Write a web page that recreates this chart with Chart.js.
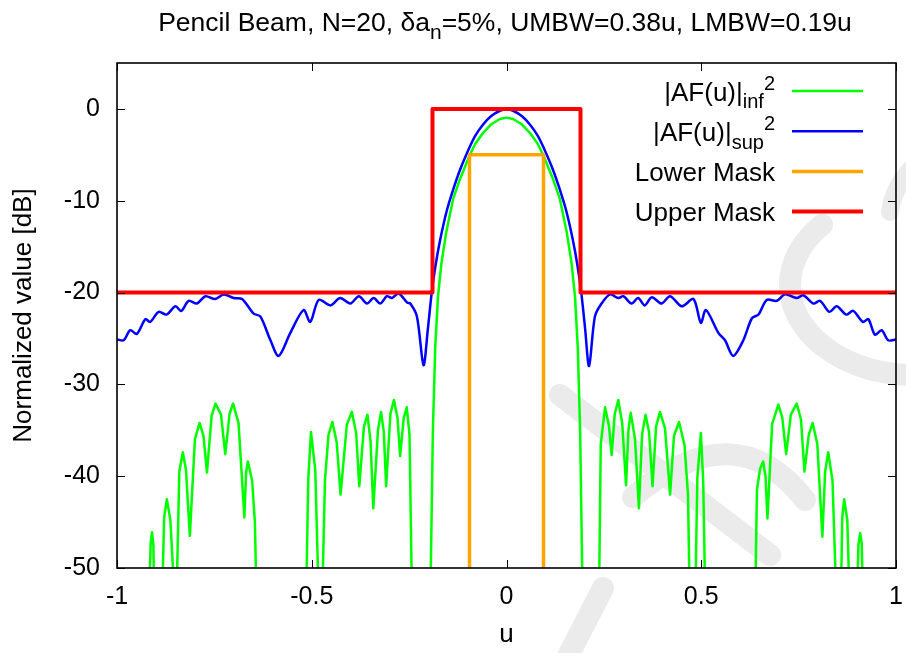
<!DOCTYPE html>
<html>
<head>
<meta charset="utf-8">
<title>Pencil Beam pattern</title>
<script src="https://cdn.jsdelivr.net/npm/chart.js@4.4.1/dist/chart.umd.min.js"></script>
<style>
  html, body { margin: 0; padding: 0; background: #fff; }
  #wrap { width: 906px; height: 653px; }
</style>
</head>
<body>
<div id="wrap"><canvas id="beamChart" width="906" height="653"></canvas></div>
<script>
// axis ticks
const xTicks = [-1, -0.5, 0, 0.5, 1];
const yTicks = [-50, -40, -30, -20, -10, 0];

// |AF(u)|inf^2 in dB, one line per lobe (values below -50 fall off the plot)
const infU = [
  -1, -0.919, -0.9135, -0.910, -0.9065, -0.904,
  -0.885, -0.879, -0.872, -0.863, -0.850,
  -0.848, -0.840, -0.831, -0.823, -0.813,
  -0.800, -0.788, -0.778, -0.769,
  -0.757, -0.747, -0.733, -0.722,
  -0.711, -0.702, -0.688, -0.673,
  -0.6685, -0.664, -0.653, -0.646, -0.641, -0.58,
  -0.515, -0.509, -0.502, -0.491, -0.481,
  -0.474, -0.466, -0.457, -0.447, -0.436, -0.426,
  -0.410, -0.397, -0.386, -0.378,
  -0.366, -0.357, -0.349, -0.342,
  -0.330, -0.322, -0.315, -0.309,
  -0.298, -0.289, -0.280, -0.273,
  -0.264, -0.256, -0.249, -0.242, -0.22,
  -0.195, -0.189, -0.183, -0.176, -0.167, -0.155, -0.137, -0.119, -0.094, -0.080, -0.060, -0.040, -0.017,
  0, 0.017, 0.040, 0.060, 0.080, 0.094, 0.119, 0.137, 0.155, 0.167, 0.176, 0.183, 0.189, 0.195, 0.215,
  0.237, 0.242, 0.253, 0.263, 0.270,
  0.278, 0.287, 0.297, 0.307,
  0.313, 0.319, 0.330, 0.340,
  0.348, 0.357, 0.366, 0.375,
  0.384, 0.394, 0.407, 0.420,
  0.430, 0.443, 0.457, 0.466, 0.471,
  0.484, 0.490, 0.499, 0.505, 0.511, 0.58,
  0.638, 0.643, 0.651, 0.659, 0.665, 0.670,
  0.682, 0.698, 0.708, 0.718,
  0.730, 0.745, 0.756, 0.765,
  0.776, 0.786, 0.798, 0.811,
  0.818, 0.826, 0.837, 0.848,
  0.858, 0.862, 0.867, 0.875, 0.882,
  0.899, 0.9035, 0.908, 0.912, 0.916, 1];
const infDb = [
  -70, -55, -47.3, -46.1, -47.6, -55,
  -55, -44.5, -42.5, -44.8, -55,
  -55, -39.5, -37.4, -39.3, -46.5,
  -36.0, -34.2, -35.6, -39.6,
  -33.4, -32.1, -33.3, -37.6,
  -33.2, -32.1, -34.2, -44.5,
  -39.6, -38.4, -40.5, -45, -55, -75,
  -55, -40.4, -35.2, -39.3, -55,
  -55, -40.4, -35.5, -34.1, -36.3, -42.0,
  -34.4, -33.0, -35.3, -41.1,
  -34.6, -33.3, -36.2, -43.5,
  -35.0, -33.0, -35.2, -41.1,
  -33.2, -31.7, -33.6, -37.8,
  -33.7, -32.5, -35.5, -55, -75,
  -52, -35, -26, -20.5, -16.8, -13.5, -9.8, -7.6, -5.0, -3.8, -2.6, -1.7, -1.1,
  -0.95, -1.1, -1.7, -2.6, -3.8, -5.0, -7.6, -9.8, -13.5, -16.8, -20.5, -26, -35, -52, -75,
  -55, -36.5, -32.5, -34.5, -37.7,
  -33.2, -31.7, -34.2, -41.0,
  -35.0, -33.1, -36.0, -43.5,
  -35.5, -33.3, -35.2, -41.1,
  -34.6, -33.0, -34.8, -42.0,
  -35.6, -34.1, -36.6, -42.0, -55,
  -55, -40.2, -35.3, -40.5, -55, -75,
  -55, -41.5, -39.2, -38.4, -40.0, -44.6,
  -34.3, -32.2, -33.6, -37.6,
  -33.3, -32.1, -33.8, -39.5,
  -35.5, -34.2, -36.5, -46.6,
  -39.5, -37.4, -40.5, -55,
  -55, -44.5, -42.5, -44.8, -55,
  -55, -47.5, -46.2, -47.3, -55, -70];

// |AF(u)|sup^2 in dB
const supU = [-1.0, -0.983, -0.966, -0.949, -0.927, -0.915, -0.893, -0.873, -0.850, -0.835,
  -0.816, -0.795, -0.773, -0.748, -0.726, -0.700, -0.679, -0.649, -0.632, -0.606,
  -0.585, -0.555, -0.521, -0.504, -0.482, -0.452, -0.427, -0.401, -0.379, -0.358,
  -0.341, -0.324, -0.307, -0.294, -0.277, -0.255, -0.247, -0.230, -0.213, -0.202,
  -0.192, -0.182, -0.170, -0.154, -0.137, -0.119, -0.094, -0.080, -0.060, -0.040,
  -0.017, 0, 0.017, 0.040, 0.060, 0.080, 0.094, 0.119, 0.137, 0.154,
  0.170, 0.182, 0.192, 0.202, 0.212, 0.227, 0.244, 0.266, 0.287, 0.300,
  0.321, 0.338, 0.355, 0.373, 0.398, 0.420, 0.450, 0.480, 0.499, 0.512,
  0.544, 0.561, 0.582, 0.608, 0.630, 0.647, 0.668, 0.694, 0.715, 0.745,
  0.762, 0.788, 0.805, 0.829, 0.848, 0.872, 0.890, 0.915, 0.929, 0.946,
  0.963, 0.980, 1.0];
const supDb = [-25.1, -25.2, -24.1, -24.5, -22.9, -23.2, -22.1, -22.4, -21.5, -22.0,
  -20.9, -21.2, -20.4, -20.7, -20.2, -20.6, -20.7, -22.3, -22.6, -25.2,
  -26.9, -24.4, -21.9, -23.2, -20.8, -21.4, -20.6, -21.2, -20.4, -21.2,
  -20.6, -21.2, -20.4, -20.6, -20.1, -21.1, -21.2, -22.6, -27.9, -24,
  -20, -17, -14.2, -11.2, -8.8, -6.6, -4.1, -2.9, -1.7, -0.8,
  -0.2, 0, -0.2, -0.8, -1.7, -2.9, -4.1, -6.6, -8.8, -11.2,
  -14.2, -17, -20, -24, -28.0, -22.6, -21.2, -20.2, -20.6, -20.4,
  -21.2, -20.6, -21.4, -20.5, -21.2, -20.4, -21.5, -20.7, -23.3, -21.9,
  -24.4, -25.2, -26.9, -25.2, -22.8, -22.4, -20.8, -20.9, -20.2, -20.6,
  -20.3, -21.2, -20.9, -22.1, -21.5, -22.4, -22.0, -23.2, -22.9, -24.6,
  -24.1, -25.2, -25.1];

// masks
const lowerMaskU = [-0.095, -0.095, 0.095, 0.095];
const lowerMaskDb = [-60, -5, -5, -60];
const upperMaskU = [-1, -0.19, -0.19, 0.19, 0.19, 1];
const upperMaskDb = [-20, -20, 0, 0, -20, -20];

const FONT = '"Liberation Sans", Arial, Helvetica, sans-serif';

function toPoints(us, vals) {
    return us.map((u, i) => ({ x: u, y: vals[i] }));
}

// text with sub/superscript pieces, drawn on the baseline y
function drawRich(ctx, parts, x, y, size, align) {
    const base = `${size}px ${FONT}`;
    const small = `${Math.round(size * 0.78)}px ${FONT}`;
    let total = 0;
    parts.forEach(p => {
        ctx.font = (p.sub || p.sup) ? small : base;
        p.w = ctx.measureText(p.t).width;
        total += p.w;
    });
    let cx = align === 'right' ? x - total : align === 'center' ? x - total / 2 : x;
    parts.forEach(p => {
        ctx.font = (p.sub || p.sup) ? small : base;
        const dy = p.sub ? size * 0.3 : p.sup ? -size * 0.42 : 0;
        ctx.fillText(p.t, cx, y + dy);
        cx += p.w;
    });
}

// faint background lettering
const watermark = {
    id: 'watermark',
    beforeDraw(chart) {
        const ctx = chart.ctx;
        ctx.save();
        ctx.strokeStyle = '#ebebeb';
        ctx.lineWidth = 22;
        ctx.lineCap = 'round';
        ctx.beginPath();
        ctx.ellipse(915, 285, 125, 90, 0, 3.875, Math.PI / 2, true);
        ctx.stroke();
        ctx.beginPath();
        ctx.moveTo(560, 395);
        ctx.lineTo(770, 555);
        ctx.stroke();
        ctx.beginPath();
        ctx.moveTo(633, 497);
        ctx.quadraticCurveTo(735, 410, 805, 500);
        ctx.stroke();
        ctx.beginPath();
        ctx.moveTo(603, 588);
        ctx.lineTo(565, 662);
        ctx.stroke();
        ctx.lineWidth = 18;
        ctx.beginPath();
        ctx.moveTo(890, 212);
        ctx.quadraticCurveTo(893, 188, 912, 168);
        ctx.stroke();
        ctx.restore();
    }
};

// border box with inward ticks on all four sides
const frameTicks = {
    id: 'frameTicks',
    afterDatasetsDraw(chart) {
        const { ctx, chartArea: a, scales: { x, y } } = chart;
        ctx.save();
        ctx.strokeStyle = '#000';
        ctx.lineWidth = 1;
        ctx.beginPath();
        xTicks.forEach(v => {
            const px = Math.round(x.getPixelForValue(v)) + 0.5;
            ctx.moveTo(px, a.bottom); ctx.lineTo(px, a.bottom - 8);
            ctx.moveTo(px, a.top); ctx.lineTo(px, a.top + 8);
        });
        yTicks.forEach(v => {
            const py = Math.round(y.getPixelForValue(v)) + 0.5;
            ctx.moveTo(a.left, py); ctx.lineTo(a.left + 8, py);
            ctx.moveTo(a.right, py); ctx.lineTo(a.right - 8, py);
        });
        ctx.stroke();
        ctx.lineWidth = 1.6;
        ctx.strokeRect(a.left, a.top, a.right - a.left, a.bottom - a.top);
        ctx.restore();
    }
};

const legendItems = [
    { parts: [{ t: '|AF(u)|' }, { t: 'inf', sub: true }, { t: '2', sup: true }], color: '#00ff00', width: 2.5 },
    { parts: [{ t: '|AF(u)|' }, { t: 'sup', sub: true }, { t: '2', sup: true }], color: '#0000ff', width: 2.5 },
    { parts: [{ t: 'Lower Mask' }], color: '#ffa500', width: 3.5 },
    { parts: [{ t: 'Upper Mask' }], color: '#ff0000', width: 4 }
];

// title and key
const labels = {
    id: 'labels',
    afterDraw(chart) {
        const ctx = chart.ctx;
        ctx.save();
        ctx.fillStyle = '#000';
        ctx.textBaseline = 'alphabetic';
        drawRich(ctx, [
            { t: 'Pencil Beam, N=20, \u03b4a' }, { t: 'n', sub: true },
            { t: '=5%, UMBW=0.38u, LMBW=0.19u' }
        ], 505, 31, 26.5, 'center');

        legendItems.forEach((item, i) => {
            const ly = 91 + i * 40.2;
            ctx.fillStyle = '#000';
            drawRich(ctx, item.parts, 775, ly + 9.5, 26, 'right');
            ctx.strokeStyle = item.color;
            ctx.lineWidth = item.width;
            ctx.beginPath();
            ctx.moveTo(792, ly);
            ctx.lineTo(863, ly);
            ctx.stroke();
        });
        ctx.restore();
    }
};

const ctx = document.getElementById('beamChart');

const beamChart = new Chart(ctx, {
    type: 'line',
    data: {
        datasets: [
            {
                label: 'Upper Mask',
                data: toPoints(upperMaskU, upperMaskDb),
                borderColor: '#ff0000',
                borderWidth: 4,
                order: 1
            },
            {
                label: 'Lower Mask',
                data: toPoints(lowerMaskU, lowerMaskDb),
                borderColor: '#ffa500',
                borderWidth: 3.5,
                order: 2
            },
            {
                label: '|AF(u)|sup^2',
                data: toPoints(supU, supDb),
                borderColor: '#0000ff',
                borderWidth: 2.5,
                tension: 0.3,
                order: 3
            },
            {
                label: '|AF(u)|inf^2',
                data: toPoints(infU, infDb),
                borderColor: '#00ff00',
                borderWidth: 2.5,
                order: 4
            }
        ]
    },
    options: {
        responsive: false,
        animation: false,
        events: [],
        layout: {
            padding: { top: 63, right: 10, left: 0, bottom: 0 }
        },
        elements: {
            point: { radius: 0 },
            line: { tension: 0, fill: false, borderJoinStyle: 'round' }
        },
        datasets: {
            line: { clip: 0 }
        },
        plugins: {
            legend: { display: false },
            tooltip: { enabled: false },
            title: { display: false }
        },
        scales: {
            x: {
                type: 'linear',
                min: -1,
                max: 1,
                grid: { display: false, drawTicks: false },
                border: { display: false },
                afterBuildTicks: scale => {
                    scale.ticks = xTicks.map(v => ({ value: v }));
                },
                afterFit: scale => {
                    // plot box is fixed; labels may hang past its ends
                    scale.height = 85;
                    scale.paddingLeft = 0;
                    scale.paddingRight = 0;
                },
                ticks: {
                    color: '#000',
                    padding: 14,
                    maxRotation: 0,
                    autoSkip: false,
                    font: { family: FONT, size: 25 },
                    callback: value => String(value)
                },
                title: {
                    display: true,
                    text: 'u',
                    color: '#000',
                    padding: { top: 0, bottom: 3 },
                    font: { family: FONT, size: 26 }
                }
            },
            y: {
                min: -50,
                max: 5,
                grid: { display: false, drawTicks: false },
                border: { display: false },
                afterBuildTicks: scale => {
                    scale.ticks = yTicks.map(v => ({ value: v }));
                },
                afterFit: scale => {
                    scale.width = 117;
                    scale.paddingTop = 0;
                    scale.paddingBottom = 0;
                },
                ticks: {
                    color: '#000',
                    padding: 17,
                    autoSkip: false,
                    font: { family: FONT, size: 25 },
                    callback: value => String(value)
                },
                title: {
                    display: true,
                    text: 'Normalized value [dB]',
                    color: '#000',
                    padding: { top: 8, bottom: 0 },
                    font: { family: FONT, size: 26 }
                }
            }
        }
    },
    plugins: [watermark, frameTicks, labels]
});
</script>
</body>
</html>
